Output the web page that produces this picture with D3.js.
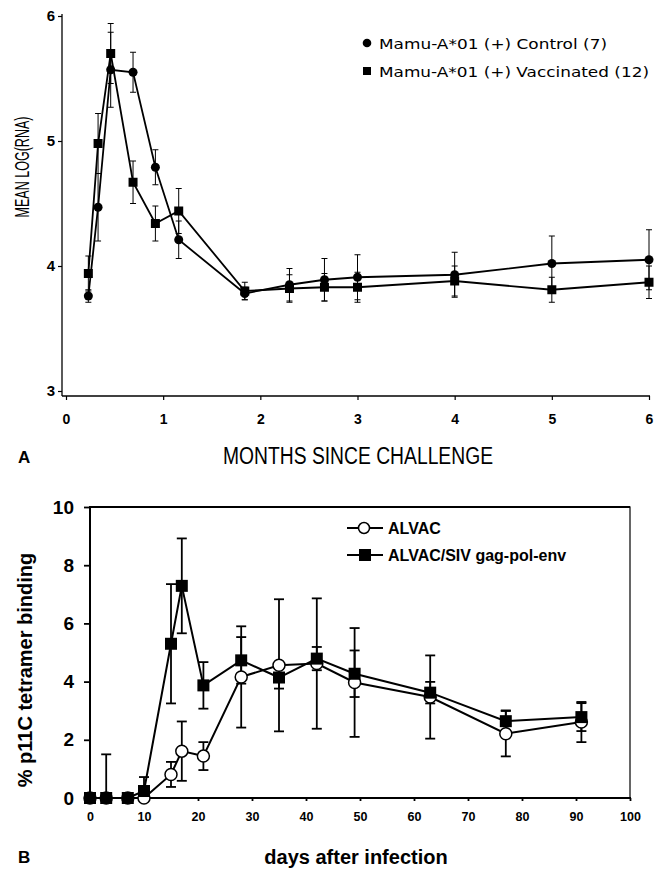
<!DOCTYPE html>
<html>
<head>
<meta charset="utf-8">
<script src="https://cdn.jsdelivr.net/npm/d3@7"></script>
<style>
  body { margin: 0; background: #fff; }
  svg { display: block; }
</style>
</head>
<body>
<div id="chart"></div>
<script>
// ---- panel A data (months since challenge) ----
var topMonths = [0.23, 0.33, 0.46, 0.69, 0.92, 1.16, 1.84, 2.30, 2.66, 3, 4, 5, 6];
var controlMean = [3.76, 4.47, 5.57, 5.55, 4.79, 4.21, 3.78, 3.85, 3.89, 3.91, 3.93, 4.02, 4.05];
var controlErr = [0.05, 0.27, 0.30, 0.16, 0.14, 0.15, 0.05, 0.13, 0.17, 0.18, 0.18, 0.22, 0.24];
var vaccMean = [3.94, 4.98, 5.70, 4.67, 4.34, 4.44, 3.80, 3.82, 3.83, 3.83, 3.88, 3.81, 3.87];
var vaccErr = [0.14, 0.24, 0.24, 0.17, 0.14, 0.18, 0.07, 0.11, 0.11, 0.12, 0.12, 0.10, 0.13];
var topXTicks = [0, 1, 2, 3, 4, 5, 6];
var topYTicks = [3, 4, 5, 6];
var topLegend = ["Mamu-A*01 (+) Control (7)", "Mamu-A*01 (+) Vaccinated (12)"];

// ---- panel B data (days after infection) ----
var days = [0, 3, 7, 10, 15, 17, 21, 28, 35, 42, 49, 63, 77, 91];
var alvacMean = [0, 0, 0, 0, 0.81, 1.61, 1.44, 4.16, 4.56, 4.62, 3.97, 3.47, 2.21, 2.61];
var alvacErr = [0, 0, 0, 0, 0.43, 1.02, 0.48, 1.74, 2.27, 2.24, 1.87, 1.43, 0.78, 0.69];
var sivMean = [0, 0, 0, 0.24, 5.30, 7.29, 3.87, 4.73, 4.14, 4.79, 4.27, 3.62, 2.64, 2.78];
var sivErr = [0, 1.5, 0, 0.48, 2.05, 1.63, 0.80, 0.80, 0.38, 0.40, 0.80, 0.37, 0.37, 0.48];
var botXTicks = [0, 10, 20, 30, 40, 50, 60, 70, 80, 90, 100];
var botYTicks = [0, 2, 4, 6, 8, 10];
var botLegend = ["ALVAC", "ALVAC/SIV gag-pol-env"];

var W = 668, H = 871;
var svg = d3.select("#chart").append("svg")
    .attr("width", W).attr("height", H)
    .style("font-family", "'Liberation Sans', Arial, sans-serif");

function zip(xs, ms, es) {
    return xs.map(function(x, i) { return {x: x, y: ms[i], e: es[i]}; });
}

// ================= Panel A =================
var xA = d3.scaleLinear().domain([0, 6]).range([66, 649]);
var yA = d3.scaleLinear().domain([3, 6]).range([391, 16]);
var gA = svg.append("g");

// axes
var axA_y = gA.append("g").attr("transform", "translate(62,0)")
    .call(d3.axisLeft(yA).tickValues(topYTicks).tickSize(4).tickSizeOuter(0).tickPadding(3).tickFormat(d3.format("d")));
var axA_x = gA.append("g").attr("transform", "translate(0,396)")
    .call(d3.axisBottom(xA).tickValues(topXTicks).tickSize(4).tickSizeOuter(0).tickPadding(14).tickFormat(d3.format("d")));
[axA_y, axA_x].forEach(function(a) {
    a.select(".domain").remove();
    a.selectAll("line").attr("stroke", "#000").attr("stroke-width", 1.2);
    a.selectAll("text").attr("fill", "#000").style("font-size", "14px").style("font-weight", "bold");
});
axA_y.selectAll("text").style("font-size", "15px");
gA.append("line").attr("x1", 62).attr("x2", 62).attr("y1", 14).attr("y2", 396)
    .attr("stroke", "#000").attr("stroke-width", 1.3);
gA.append("line").attr("x1", 62).attr("x2", 650).attr("y1", 396).attr("y2", 396)
    .attr("stroke", "#000").attr("stroke-width", 1.3);

var lineA = d3.line().x(function(d) { return xA(d.x); }).y(function(d) { return yA(d.y); });

function errBars(g, data, xs, ys, cap, sw, ymin) {
    var eg = g.append("g").attr("stroke", "#000").attr("stroke-width", sw);
    data.forEach(function(d) {
        if (!d.e) return;
        var lo = Math.max(d.y - d.e, ymin), hi = d.y + d.e;
        var cx = xs(d.x);
        eg.append("line").attr("x1", cx).attr("x2", cx).attr("y1", ys(lo)).attr("y2", ys(hi));
        eg.append("line").attr("x1", cx - cap).attr("x2", cx + cap).attr("y1", ys(hi)).attr("y2", ys(hi));
        if (d.y - d.e >= ymin)
            eg.append("line").attr("x1", cx - cap).attr("x2", cx + cap).attr("y1", ys(lo)).attr("y2", ys(lo));
    });
}

var ctrl = zip(topMonths, controlMean, controlErr);
var vacc = zip(topMonths, vaccMean, vaccErr);

errBars(gA, ctrl, xA, yA, 3, 1, 3);
errBars(gA, vacc, xA, yA, 3, 1, 3);
gA.append("path").attr("d", lineA(ctrl)).attr("fill", "none").attr("stroke", "#000").attr("stroke-width", 1.8);
gA.append("path").attr("d", lineA(vacc)).attr("fill", "none").attr("stroke", "#000").attr("stroke-width", 1.8);
gA.selectAll(".c").data(ctrl).enter().append("circle")
    .attr("cx", function(d) { return xA(d.x); }).attr("cy", function(d) { return yA(d.y); })
    .attr("r", 4.5).attr("fill", "#000");
gA.selectAll(".s").data(vacc).enter().append("rect")
    .attr("x", function(d) { return xA(d.x) - 4.5; }).attr("y", function(d) { return yA(d.y) - 4.5; })
    .attr("width", 9).attr("height", 9).attr("fill", "#000");

// legend A
var legA = gA.append("g").attr("transform", "translate(367,0)");
legA.append("circle").attr("cx", 0).attr("cy", 43).attr("r", 4.3).attr("fill", "#000");
legA.append("rect").attr("x", -4).attr("y", 67).attr("width", 8).attr("height", 8).attr("fill", "#000");
legA.selectAll("text").data(topLegend).enter().append("text")
    .attr("x", 12).attr("y", function(d, i) { return 48.5 + i * 28.5; })
    .style("font-family", "'DejaVu Sans', sans-serif").style("font-size", "14.5px")
    .attr("textLength", function(d, i) { return i ? 270 : 228; }).attr("lengthAdjust", "spacingAndGlyphs")
    .text(function(d) { return d; });

// titles A
gA.append("text").attr("transform", "translate(29,167) rotate(-90)").attr("text-anchor", "middle")
    .style("font-size", "21px").attr("textLength", 101).attr("lengthAdjust", "spacingAndGlyphs")
    .text("MEAN LOG(RNA)");
gA.append("text").attr("x", 223).attr("y", 464)
    .style("font-size", "23px").attr("textLength", 270).attr("lengthAdjust", "spacingAndGlyphs")
    .text("MONTHS SINCE CHALLENGE");
gA.append("text").attr("x", 18).attr("y", 463).style("font-size", "17px").style("font-weight", "bold").text("A");

// ================= Panel B =================
var xB = d3.scaleLinear().domain([0, 100]).range([90, 630]);
var yB = d3.scaleLinear().domain([0, 10]).range([798, 507]);
var gB = svg.append("g");

gB.append("rect").attr("x", 90).attr("y", 507).attr("width", 540).attr("height", 291)
    .attr("fill", "none").attr("stroke", "#000").attr("stroke-width", 1.2);
gB.append("line").attr("x1", 90).attr("x2", 630).attr("y1", 507).attr("y2", 507).attr("stroke", "#000").attr("stroke-width", 2);
gB.append("line").attr("x1", 90).attr("x2", 90).attr("y1", 506).attr("y2", 799).attr("stroke", "#000").attr("stroke-width", 2);
gB.append("line").attr("x1", 90).attr("x2", 631).attr("y1", 798).attr("y2", 798).attr("stroke", "#000").attr("stroke-width", 2);

var axB_y = gB.append("g").attr("transform", "translate(90,0)")
    .call(d3.axisLeft(yB).tickValues(botYTicks).tickSize(6).tickSizeOuter(0).tickPadding(10).tickFormat(d3.format("d")));
var axB_x = gB.append("g").attr("transform", "translate(0,798)")
    .call(d3.axisBottom(xB).tickValues(botXTicks).tickSize(3).tickSizeOuter(0).tickPadding(11).tickFormat(d3.format("d")));
[axB_y, axB_x].forEach(function(a) {
    a.select(".domain").remove();
    a.selectAll("line").attr("stroke", "#000").attr("stroke-width", 1.8);
    a.selectAll("text").attr("fill", "#000").style("font-weight", "bold");
});
axB_y.selectAll("text").style("font-size", "19px");
axB_x.selectAll("text").style("font-size", "12.5px");

var alvac = zip(days, alvacMean, alvacErr);
var siv = zip(days, sivMean, sivErr);
var lineB = d3.line().x(function(d) { return xB(d.x); }).y(function(d) { return yB(d.y); });

errBars(gB, alvac, xB, yB, 5, 1.8, 0);
errBars(gB, siv, xB, yB, 5, 1.8, 0);
gB.append("path").attr("d", lineB(alvac)).attr("fill", "none").attr("stroke", "#000").attr("stroke-width", 2);
gB.append("path").attr("d", lineB(siv)).attr("fill", "none").attr("stroke", "#000").attr("stroke-width", 2);
gB.selectAll(".c").data(alvac).enter().append("circle")
    .attr("cx", function(d) { return xB(d.x); }).attr("cy", function(d) { return yB(d.y); })
    .attr("r", 6).attr("fill", "#fff").attr("stroke", "#000").attr("stroke-width", 1.5);
gB.selectAll(".s").data(siv).enter().append("rect")
    .attr("x", function(d) { return xB(d.x) - 6; }).attr("y", function(d) { return yB(d.y) - 6; })
    .attr("width", 12).attr("height", 12).attr("fill", "#000");

// legend B
var legB = gB.append("g");
legB.append("line").attr("x1", 347).attr("x2", 383).attr("y1", 528).attr("y2", 528).attr("stroke", "#000").attr("stroke-width", 2);
legB.append("circle").attr("cx", 364).attr("cy", 528).attr("r", 5.5).attr("fill", "#fff").attr("stroke", "#000").attr("stroke-width", 1.5);
legB.append("line").attr("x1", 347).attr("x2", 383).attr("y1", 555).attr("y2", 555).attr("stroke", "#000").attr("stroke-width", 2);
legB.append("rect").attr("x", 359).attr("y", 549).attr("width", 12).attr("height", 12).attr("fill", "#000");
legB.selectAll("text").data(botLegend).enter().append("text")
    .attr("x", 388).attr("y", function(d, i) { return 534 + i * 27; })
    .style("font-size", "16px").style("font-weight", "bold")
    .text(function(d) { return d; });

// titles B
gB.append("text").attr("transform", "translate(32,670) rotate(-90)").attr("text-anchor", "middle")
    .style("font-size", "20px").style("font-weight", "bold").text("% p11C tetramer binding");
gB.append("text").attr("x", 356).attr("y", 864).attr("text-anchor", "middle")
    .style("font-size", "20px").style("font-weight", "bold").text("days after infection");
gB.append("text").attr("x", 18).attr("y", 863).style("font-size", "17px").style("font-weight", "bold").text("B");
</script>
</body>
</html>
